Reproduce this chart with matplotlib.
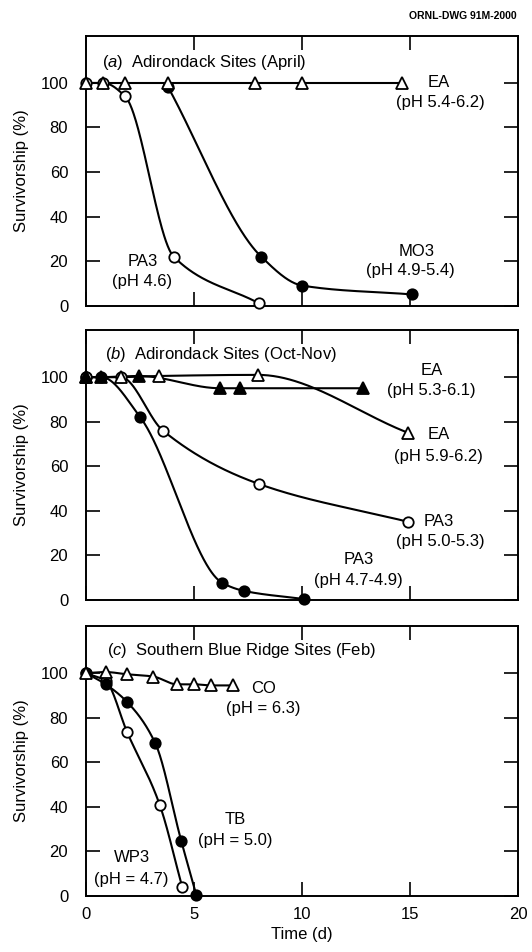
import numpy as np
import matplotlib
matplotlib.use('Agg')
import matplotlib.pyplot as plt

plt.rcParams['font.family'] = ['Liberation Sans', 'DejaVu Sans']
plt.rcParams['mathtext.fontset'] = 'custom'
plt.rcParams['mathtext.rm'] = 'Liberation Sans'
plt.rcParams['mathtext.it'] = 'Liberation Sans:italic'

#---------------- data ----------------
# (a) Adirondack Sites (April)
a_ea_x = [0, 0.8, 1.8, 3.8, 7.8, 10.0, 14.6]
a_ea_y = [100, 100, 100, 100, 100, 100, 100]
a_pa3_x = [0, 0.8, 1.8, 4.05, 8.0]
a_pa3_y = [100, 100, 94, 22, 1]
a_mo3_x = [3.8, 8.1, 10.0, 15.1]
a_mo3_y = [98, 22, 9, 5]

# (b) Adirondack Sites (Oct-Nov)
b_ea1_x = [0, 0.7, 2.45, 6.2, 7.1, 12.8]
b_ea1_y = [100, 100, 100.5, 95, 95, 95]
b_ea2_x = [0, 1.6, 3.35, 7.95, 14.9]
b_ea2_y = [100, 100, 100.5, 101, 75]
b_pa3o_x = [0, 1.6, 3.55, 8.0, 14.9]
b_pa3o_y = [100, 100, 76, 52, 35]
b_pa3f_x = [0, 0.7, 2.5, 6.3, 7.3, 10.1]
b_pa3f_y = [100, 100, 82, 7.6, 4, 0.3]

# (c) Southern Blue Ridge Sites (Feb)
c_co_x = [0, 0.9, 1.9, 3.1, 4.2, 5.0, 5.8, 6.8]
c_co_y = [100, 100.5, 99.5, 98.5, 95, 95, 94.5, 94.5]
c_tb_x = [0, 0.9, 1.9, 3.2, 4.4, 5.1]
c_tb_y = [100, 95, 87, 68.5, 24.7, 0.3]
c_wp3_x = [0, 0.9, 1.9, 3.4, 4.45]
c_wp3_y = [100, 96.5, 73.4, 41, 3.8]

x_ticks = [0, 5, 10, 15, 20]
y_ticks = [0, 20, 40, 60, 80, 100]


def smooth(x, y, n=300):
    # monotone cubic (Fritsch-Carlson) curve through the points, for drawing
    x = np.asarray(x, float)
    y = np.asarray(y, float)
    h = np.diff(x)
    d = np.diff(y) / h
    m = np.zeros_like(x)
    m[0] = d[0]
    m[-1] = d[-1]
    for k in range(1, len(x) - 1):
        if d[k-1] * d[k] > 0:
            w1 = 2 * h[k] + h[k-1]
            w2 = h[k] + 2 * h[k-1]
            m[k] = (w1 + w2) / (w1 / d[k-1] + w2 / d[k])
    xs = np.linspace(x[0], x[-1], n)
    i = np.clip(np.searchsorted(x, xs) - 1, 0, len(h) - 1)
    t = (xs - x[i]) / h[i]
    h00 = 2*t**3 - 3*t**2 + 1
    h10 = t**3 - 2*t**2 + t
    h01 = -2*t**3 + 3*t**2
    h11 = t**3 - t**2
    ys = h00*y[i] + h10*h[i]*m[i] + h01*y[i+1] + h11*h[i]*m[i+1]
    return xs, ys


def series(ax, x, y, marker, filled):
    xs, ys = smooth(x, y)
    ax.plot(xs, ys, color='black', linewidth=1.5, zorder=2, clip_on=False)
    ax.plot(x, y, linestyle='none', marker=marker, markersize=7.5 if marker == 'o' else 8,
            markerfacecolor='black' if filled else 'white', markeredgecolor='black',
            markeredgewidth=1.3, zorder=3, clip_on=False)


def style(ax, bottom_labels):
    ax.set_xlim(0, 20)
    ax.set_ylim(0, 121)
    ax.set_xticks(x_ticks)
    ax.set_yticks(y_ticks)
    ax.tick_params(direction='in', length=10, width=1.2, top=True, right=True,
                   labelsize=12)
    ax.tick_params(axis='y', pad=13)
    ax.tick_params(axis='x', pad=8, labelbottom=bottom_labels)
    for s in ax.spines.values():
        s.set_linewidth(1.4)
    ax.set_ylabel('Survivorship (%)', fontsize=12, labelpad=8)


fig = plt.figure(figsize=(5.32, 9.52), dpi=100)
L, W, H = 0.162, 0.812, 0.283
ax_a = fig.add_axes([L, 0.679, W, H])
ax_b = fig.add_axes([L, 0.370, W, H])
ax_c = fig.add_axes([L, 0.059, W, H])

fs = 12
#---------------- (a) ----------------
series(ax_a, a_pa3_x, a_pa3_y, 'o', False)
series(ax_a, a_mo3_x, a_mo3_y, 'o', True)
series(ax_a, a_ea_x, a_ea_y, '^', False)
style(ax_a, False)
ax_a.text(0.75, 109, '(' + r'$\it{a}$' + ')  Adirondack Sites (April)', fontsize=fs, va='center')
ax_a.text(15.8, 100, 'EA', fontsize=fs, va='center')
ax_a.text(16.4, 91, '(pH 5.4-6.2)', fontsize=fs, va='center', ha='center')
ax_a.text(15.3, 24.5, 'MO3', fontsize=fs, va='center', ha='center')
ax_a.text(15.0, 15.6, '(pH 4.9-5.4)', fontsize=fs, va='center', ha='center')
ax_a.text(2.6, 20, 'PA3', fontsize=fs, va='center', ha='center')
ax_a.text(2.6, 10.7, '(pH 4.6)', fontsize=fs, va='center', ha='center')

#---------------- (b) ----------------
series(ax_b, b_pa3f_x, b_pa3f_y, 'o', True)
series(ax_b, b_pa3o_x, b_pa3o_y, 'o', False)
series(ax_b, b_ea2_x, b_ea2_y, '^', False)
series(ax_b, b_ea1_x, b_ea1_y, '^', True)
style(ax_b, False)
ax_b.text(0.85, 110, '(' + r'$\it{b}$' + ')  Adirondack Sites (Oct-Nov)', fontsize=fs, va='center')
ax_b.text(16.0, 103, 'EA', fontsize=fs, va='center', ha='center')
ax_b.text(16.0, 94, '(pH 5.3-6.1)', fontsize=fs, va='center', ha='center')
ax_b.text(16.3, 74, 'EA', fontsize=fs, va='center', ha='center')
ax_b.text(16.3, 64.5, '(pH 5.9-6.2)', fontsize=fs, va='center', ha='center')
ax_b.text(16.3, 35, 'PA3', fontsize=fs, va='center', ha='center')
ax_b.text(16.4, 26, '(pH 5.0-5.3)', fontsize=fs, va='center', ha='center')
ax_b.text(12.6, 18, 'PA3', fontsize=fs, va='center', ha='center')
ax_b.text(12.6, 8.5, '(pH 4.7-4.9)', fontsize=fs, va='center', ha='center')

#---------------- (c) ----------------
series(ax_c, c_wp3_x, c_wp3_y, 'o', False)
series(ax_c, c_tb_x, c_tb_y, 'o', True)
series(ax_c, c_co_x, c_co_y, '^', False)
style(ax_c, True)
ax_c.set_xlabel('Time (d)', fontsize=fs, labelpad=4)
ax_c.text(0.95, 110, '(' + r'$\it{c}$' + ')  Southern Blue Ridge Sites (Feb)', fontsize=fs, va='center')
ax_c.text(8.2, 93, 'CO', fontsize=fs, va='center', ha='center')
ax_c.text(8.2, 84, '(pH = 6.3)', fontsize=fs, va='center', ha='center')
ax_c.text(6.9, 34.5, 'TB', fontsize=fs, va='center', ha='center')
ax_c.text(6.9, 25, '(pH = 5.0)', fontsize=fs, va='center', ha='center')
ax_c.text(2.1, 17, 'WP3', fontsize=fs, va='center', ha='center')
ax_c.text(2.1, 7.5, '(pH = 4.7)', fontsize=fs, va='center', ha='center')

fig.text(0.972, 0.988, 'ORNL-DWG 91M-2000', fontsize=7.5, fontweight='bold',
         ha='right', va='top')

fig.savefig('out.png', dpi=100)
